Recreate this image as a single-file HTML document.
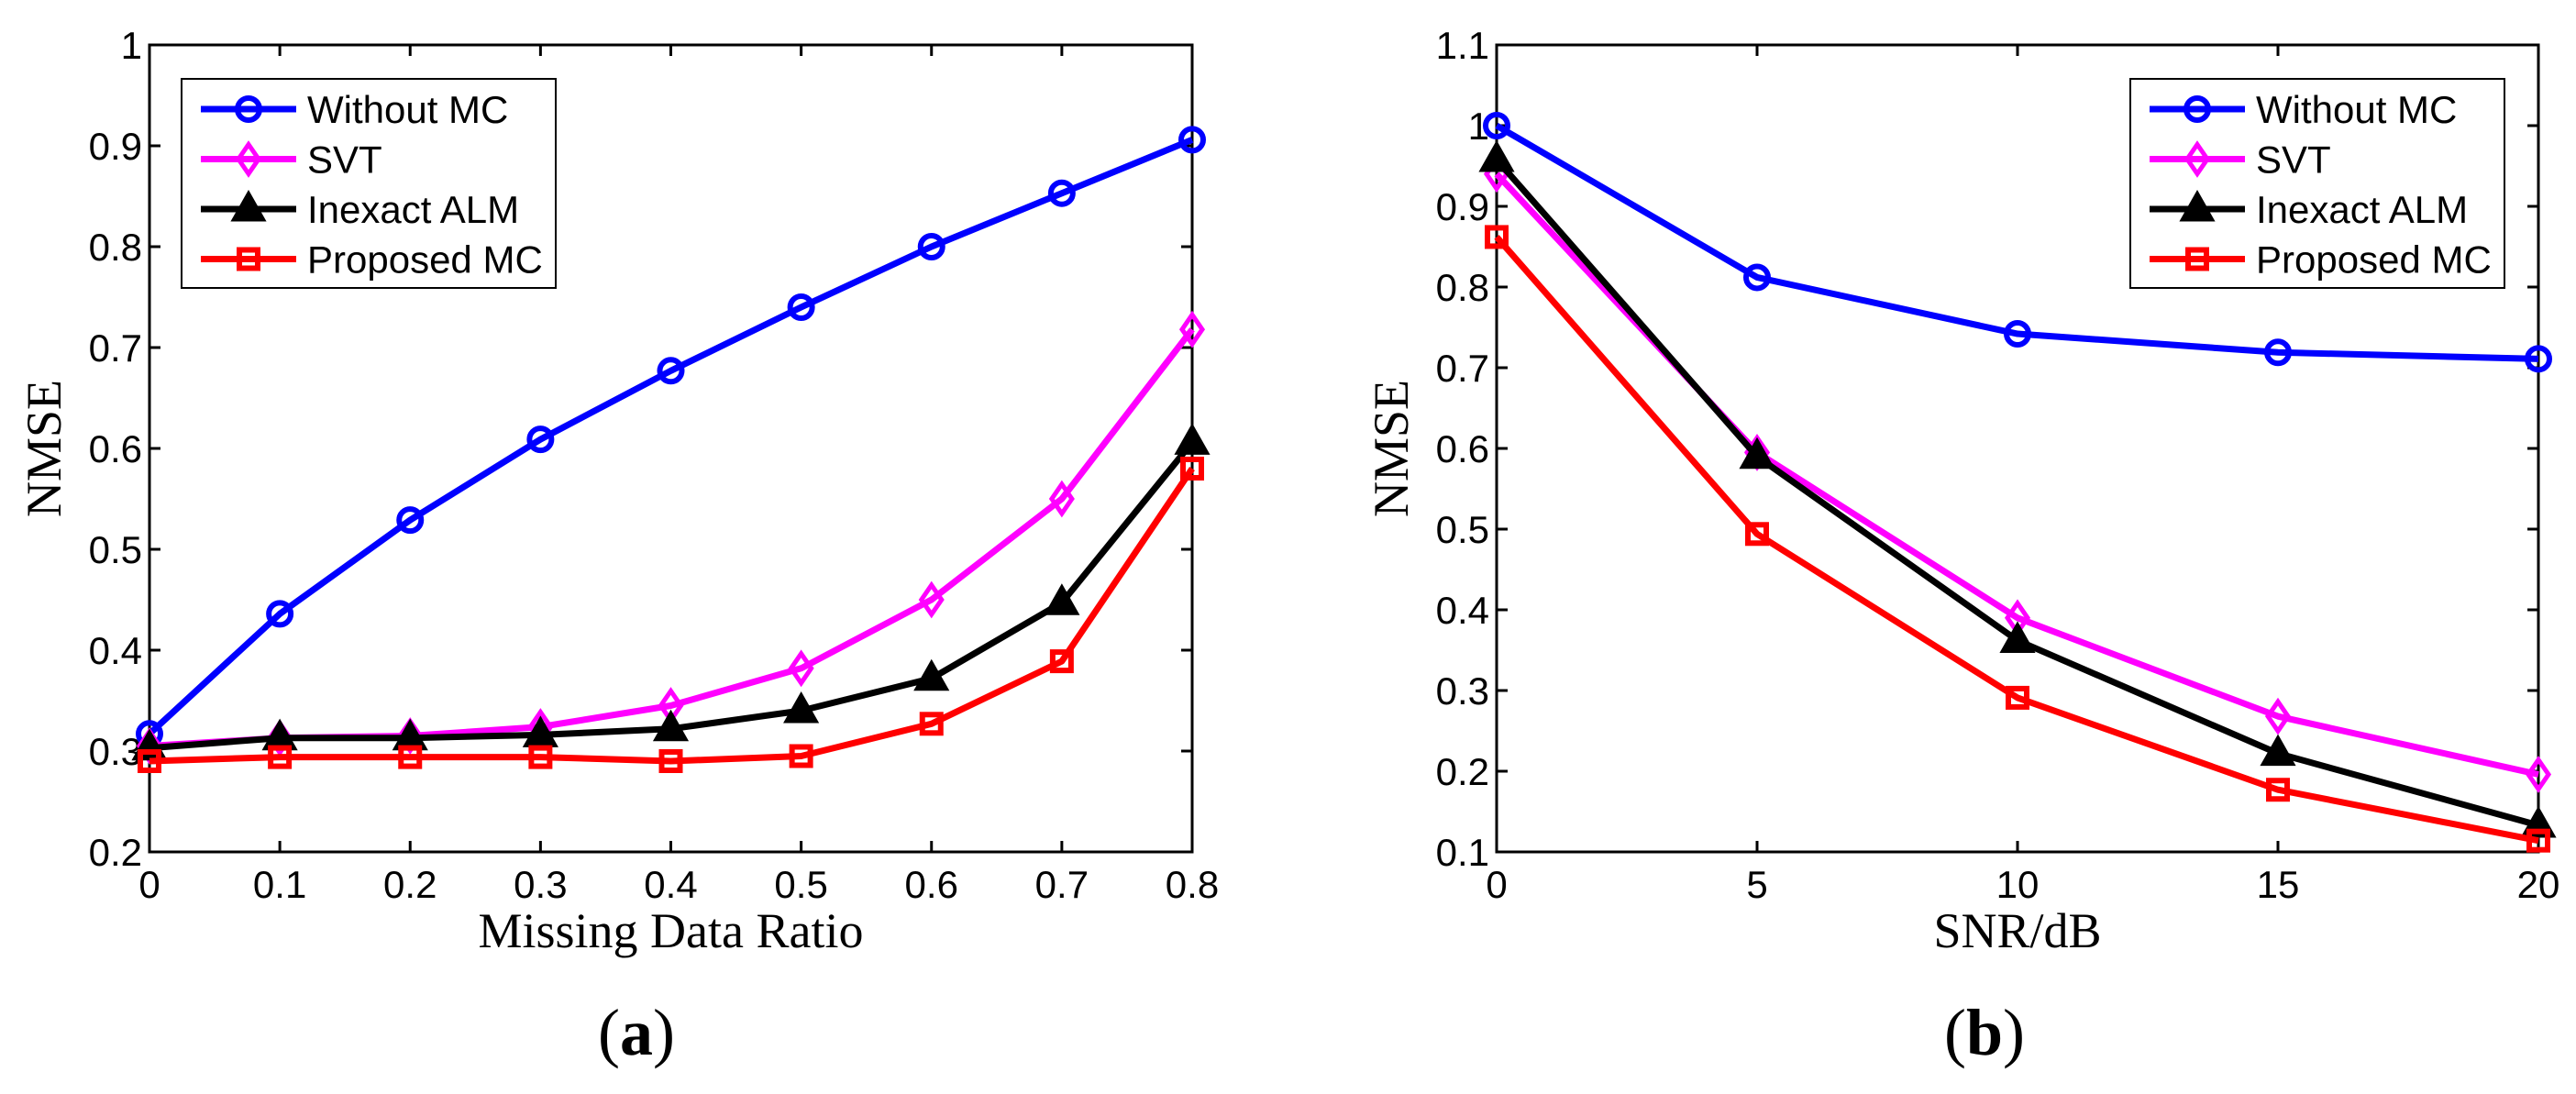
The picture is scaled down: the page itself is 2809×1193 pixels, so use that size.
<!DOCTYPE html>
<html><head><meta charset="utf-8"><style>
html,body{margin:0;padding:0;background:#fff;}
svg{display:block;}
.tick{font-family:"Liberation Sans",Arial,sans-serif;font-size:42px;fill:#000;}
.lab{font-family:"Liberation Serif","Times New Roman",serif;font-size:54px;fill:#000;}
.leg{font-family:"Liberation Sans",Arial,sans-serif;font-size:42px;fill:#000;}
.cap{font-family:"Liberation Serif",serif;font-size:72px;fill:#000;}
</style></head><body>
<svg id="fig" width="2809" height="1193" xmlns="http://www.w3.org/2000/svg"></svg>
<script>
const catsA = [0,0.1,0.2,0.3,0.4,0.5,0.6,0.7,0.8];
const withoutA = [0.317,0.436,0.529,0.609,0.677,0.740,0.800,0.853,0.906];
const svtA = [0.305,0.313,0.315,0.324,0.345,0.382,0.450,0.550,0.718];
const almA = [0.303,0.313,0.313,0.316,0.322,0.340,0.372,0.447,0.606];
const propA = [0.290,0.294,0.294,0.294,0.290,0.295,0.327,0.389,0.580];
const xTicksA = ["0","0.1","0.2","0.3","0.4","0.5","0.6","0.7","0.8"];
const yTicksA = ["0.2","0.3","0.4","0.5","0.6","0.7","0.8","0.9","1"];

const catsB = [0,5,10,15,20];
const withoutB = [1.0,0.812,0.742,0.719,0.711];
const svtB = [0.940,0.595,0.390,0.268,0.196];
const almB = [0.958,0.590,0.362,0.222,0.133];
const propB = [0.862,0.494,0.291,0.177,0.114];
const xTicksB = ["0","5","10","15","20"];
const yTicksB = ["0.1","0.2","0.3","0.4","0.5","0.6","0.7","0.8","0.9","1","1.1"];

const legendNames = ["Without MC","SVT","Inexact ALM","Proposed MC"];
const NS="http://www.w3.org/2000/svg";
const svg=document.getElementById('fig');
function mk(tag,attrs,parent){const e=document.createElementNS(NS,tag);for(const k in attrs)e.setAttribute(k,attrs[k]);(parent||svg).appendChild(e);return e;}

function marker(g,type,color,x,y){
  let m;
  if(type==='circle'){m=mk('circle',{cx:x,cy:y,r:12,fill:'none',stroke:color,'stroke-width':6},g);}
  else if(type==='diamond'){m=mk('polygon',{points:`${x},${y-16} ${x+11},${y} ${x},${y+16} ${x-11},${y}`,fill:'none',stroke:color,'stroke-width':5},g);}
  else if(type==='tri'){m=mk('polygon',{points:`${x},${y-18} ${x+17},${y+12} ${x-17},${y+12}`,fill:color,stroke:color,'stroke-width':3},g);}
  else {m=mk('rect',{x:x-10,y:y-10,width:20,height:20,fill:'none',stroke:color,'stroke-width':6},g);}
  
  
}

const styles=[['#0000ff','circle'],['#ff00ff','diamond'],['#000000','tri'],['#ff0000','square']];

function chart(o){
  const g=mk('g',{});
  
  
  const L=o.L,R=o.R,T=49,B=929;
  const xs=v=>L+(v-o.xmin)/(o.xmax-o.xmin)*(R-L);
  const ys=v=>B-(v-o.ymin)/(o.ymax-o.ymin)*(B-T);
  // ticks
  o.xt.forEach((t,i)=>{const x=xs(o.xmin+i*(o.xmax-o.xmin)/(o.xt.length-1));
    mk('line',{x1:x,y1:B,x2:x,y2:B-12,stroke:'#000','stroke-width':3},g);
    mk('line',{x1:x,y1:T,x2:x,y2:T+12,stroke:'#000','stroke-width':3},g);
    const tx=mk('text',{x:x,y:B+50,'text-anchor':'middle',class:'tick'},g);tx.textContent=t;
    
    
  });
  o.yt.forEach((t,i)=>{const y=ys(o.ymin+i*(o.ymax-o.ymin)/(o.yt.length-1));
    mk('line',{x1:L,y1:y,x2:L+12,y2:y,stroke:'#000','stroke-width':3},g);
    mk('line',{x1:R,y1:y,x2:R-12,y2:y,stroke:'#000','stroke-width':3},g);
    const tx=mk('text',{x:L-8,y:y+15,'text-anchor':'end',class:'tick'},g);tx.textContent=t;
    
    
  });
  mk('rect',{x:L,y:T,width:R-L,height:B-T,fill:'none',stroke:'#000','stroke-width':3},g);
  o.series.forEach((s,si)=>{
    const [c,t]=styles[si];
    const pts=s.map((v,i)=>xs(o.cats[i])+','+ys(v)).join(' ');
    const pl=mk('polyline',{points:pts,fill:'none',stroke:c,'stroke-width':7,'stroke-linejoin':'round'},g);
    
    
    s.forEach((v,i)=>marker(g,t,c,xs(o.cats[i]),ys(v)));
  });
  // legend
  const lg=mk('g',{},g);
  
  
  mk('rect',{x:o.lx,y:86,width:408,height:228,fill:'#fff',stroke:'#000','stroke-width':2},lg);
  legendNames.forEach((n,i)=>{
    const y=119+i*54.5;const [c,t]=styles[i];
    mk('line',{x1:o.lx+21,y1:y,x2:o.lx+125,y2:y,stroke:c,'stroke-width':7},lg);
    marker(lg,t,c,o.lx+73,y);
    const tx=mk('text',{x:o.lx+137,y:y+15,class:'leg'},lg);tx.textContent=n;
    
    
  });
  const yl=mk('text',{x:0,y:0,transform:`translate(${o.yl},489) rotate(-90)`,'text-anchor':'middle',class:'lab'},g);yl.textContent='NMSE';
  
  
  const xl=mk('text',{x:(L+R)/2,y:1033,'text-anchor':'middle',class:'lab'},g);xl.textContent=o.xlab;
  
  
  const cp=mk('text',{x:o.cx,y:1150,'text-anchor':'middle',class:'cap'},g);
  cp.innerHTML='(<tspan font-weight="bold">'+o.cap+'</tspan>)';
  
  
}
chart({name:'chart-a',L:163,R:1300,xmin:0,xmax:0.8,ymin:0.2,ymax:1,cats:catsA,xt:xTicksA,yt:yTicksA,
  series:[withoutA,svtA,almA,propA],lx:198,yl:66,xlab:'Missing Data Ratio',cx:694,cap:'a'});
chart({name:'chart-b',L:1632,R:2768,xmin:0,xmax:20,ymin:0.1,ymax:1.1,cats:catsB,xt:xTicksB,yt:yTicksB,
  series:[withoutB,svtB,almB,propB],lx:2323,yl:1535,xlab:'SNR/dB',cx:2164,cap:'b'});
</script>
</body></html>
